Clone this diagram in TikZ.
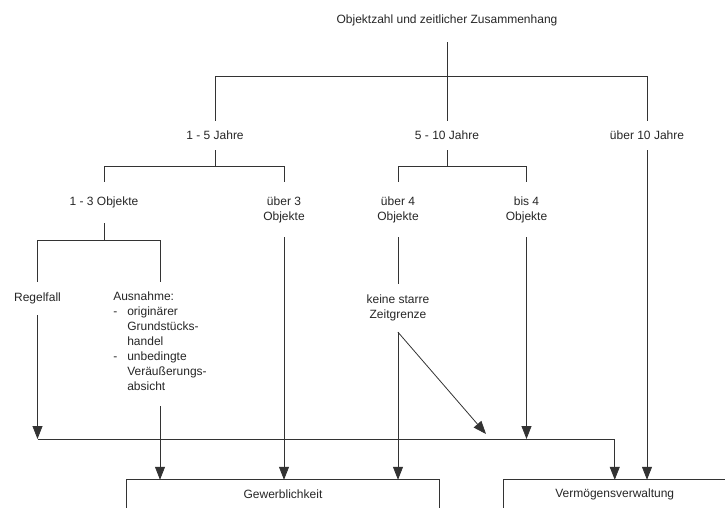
\documentclass[tikz,border=0pt]{standalone}
\usepackage{fontspec}
\setmainfont{Liberation Sans}
\usetikzlibrary{arrows.meta}
\begin{document}
\begin{tikzpicture}[x=1pt,y=-1pt,
  every node/.style={font=\fontsize{12}{15}\selectfont, text=black!85, inner sep=0pt},
  lbl/.style={align=center},
  lln/.style={draw=black!80, line width=0.8pt},
  arr/.style={lln, -{Triangle[length=13pt,width=10pt]}},
  boxnode/.style={minimum height=28pt}]
\clip (0,0) rectangle (725,508);
% text nodes
\node[lbl, minimum height=44pt] (top) at (447,20) {Objektzahl und zeitlicher Zusammenhang};
\node[lbl, minimum height=29pt] (j15) at (215,135.5) {1 - 5 Jahre};
\node[lbl, minimum height=29pt] (j510) at (447,135.5) {5 - 10 Jahre};
\node[lbl, minimum height=29pt] (u10) at (647,135.5) {über 10 Jahre};
\node[lbl, minimum height=41pt] (o13) at (104,202.5) {1 - 3 Objekte};
\node[lbl, minimum height=55pt] (o3) at (284,209.5) {über 3\\Objekte};
\node[lbl, minimum height=55pt] (o4) at (398,209.5) {über 4\\Objekte};
\node[lbl, minimum height=55pt] (b4) at (526.5,209.5) {bis 4\\Objekte};
\node[lbl, minimum height=33pt] (regel) at (37.5,298.5) {Regelfall};
\node[align=left, minimum height=124pt] (aus) at (160,343.8) {Ausnahme:\\
\makebox[14pt][l]{-}originärer\\
\hspace*{14pt}Grundstücks-\\
\hspace*{14pt}handel\\
\makebox[14pt][l]{-}unbedingte\\
\hspace*{14pt}Veräußerungs-\\
\hspace*{14pt}absicht\rule[-6pt]{0pt}{6pt}};
\node[lbl, minimum height=48pt] (keine) at (398,308) {keine starre\\Zeitgrenze};
% boxes
\node[boxnode, minimum width=312pt] (G) at (283,494) {Gewerblichkeit};
\node[boxnode, minimum width=222.5pt] (V) at (614.75,494) {Vermögensverwaltung};
\draw[lln] (G.south west) -- (G.north west) -- (G.north east) -- (G.south east);
\draw[lln] (V.south west) -- (V.north west) -- (V.north east) -- (V.south east);
% bar levels
\coordinate (y1) at (0,76);
\coordinate (y2) at (0,166);
\coordinate (y3) at (0,240);
\coordinate (y4) at (0,439);
\coordinate (diag) at (486,434);
% tree lines
\draw[lln] (top.south) -- (j510.north);
\draw[lln] (j15.north) -- (j15.north |- y1) -- (u10.north |- y1) -- (u10.north);
\draw[lln] (j15.south) -- (j15.south |- y2);
\draw[lln] (o13.north) -- (o13.north |- y2) -- (o3.north |- y2) -- (o3.north);
\draw[lln] (j510.south) -- (j510.south |- y2);
\draw[lln] (o4.north) -- (o4.north |- y2) -- (b4.north |- y2) -- (b4.north);
\draw[lln] (o13.south) -- (o13.south |- y3);
\draw[lln] (regel.north) -- (regel.north |- y3) -- (aus.north |- y3) -- (aus.north);
\draw[lln] (o4.south) -- (keine.north);
% arrows
\draw[arr] (regel.south) -- (regel.south |- y4);
\draw[arr] (regel.south |- y4) -- (V.north |- y4) -- (V.north);
\draw[arr] (aus.south) -- (aus.south |- G.north);
\draw[arr] (o3.south) -- (o3.south |- G.north);
\draw[arr] (keine.south) -- (keine.south |- G.north);
\draw[arr] (keine.south) -- (diag);
\draw[arr] (b4.south) -- (b4.south |- y4);
\draw[arr] (u10.south) -- (u10.south |- V.north);
\end{tikzpicture}
\end{document}
